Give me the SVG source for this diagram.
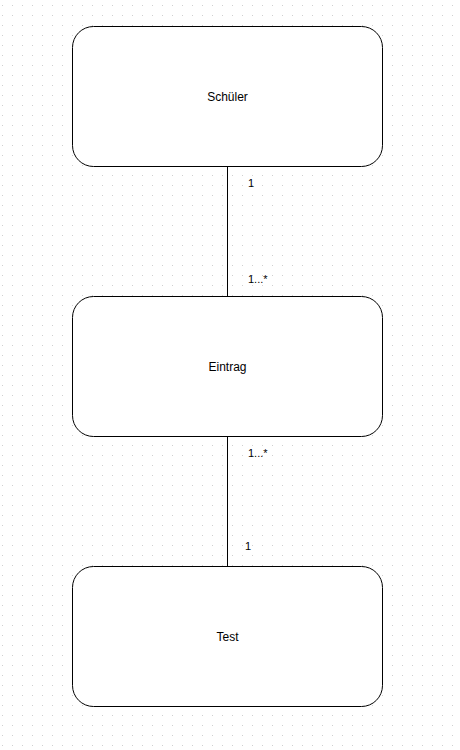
<svg xmlns="http://www.w3.org/2000/svg" width="460" height="750" viewBox="0 0 460 750">
<defs>
<pattern id="grid" x="0" y="0" width="10" height="10" patternUnits="userSpaceOnUse">
<rect x="2" y="5" width="1" height="1" fill="#d0d0d0"/>
</pattern>
<style>
.node{fill:#ffffff;stroke:#000000;stroke-width:1}
.lbl{font-family:"Liberation Sans",Arial,sans-serif;font-size:12px;fill:#000000;text-anchor:middle}
.card{font-family:"Liberation Sans",Arial,sans-serif;font-size:11px;fill:#000000}
.edge{stroke:#000000;stroke-width:1;fill:none}
</style>
</defs>
<rect width="460" height="750" fill="#ffffff"/>
<rect width="460" height="750" fill="url(#grid)"/>
<g id="connectors">
<line class="edge" x1="227.5" y1="166.5" x2="227.5" y2="296.5"/>
<line class="edge" x1="227.5" y1="436.5" x2="227.5" y2="566.5"/>
<text class="card" x="248" y="187">1</text>
<text class="card" x="248" y="283">1...*</text>
<text class="card" x="248" y="457">1...*</text>
<text class="card" x="245" y="550">1</text>
</g>
<g id="schueler">
<rect class="node" x="72.5" y="26.5" width="310" height="140" rx="21" ry="21"/>
<text class="lbl" x="227.5" y="101">Schüler</text>
</g>
<g id="eintrag">
<rect class="node" x="72.5" y="296.5" width="310" height="140" rx="21" ry="21"/>
<text class="lbl" x="227.5" y="371">Eintrag</text>
</g>
<g id="test">
<rect class="node" x="72.5" y="566.5" width="310" height="140" rx="21" ry="21"/>
<text class="lbl" x="227.5" y="641">Test</text>
</g>
</svg>
